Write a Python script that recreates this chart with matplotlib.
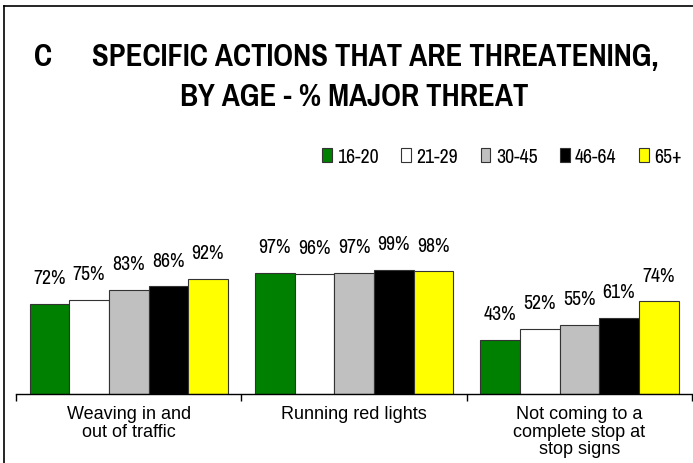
import matplotlib.pyplot as plt
from matplotlib import font_manager as fm
from matplotlib.lines import Line2D
from matplotlib.patches import Patch

# narrow Arial-like face if available, else plain sans at a smaller size
try:
    fm.findfont('Pragati Narrow', fallback_to_default=False)
    plt.rcParams['font.family'] = ['Pragati Narrow', 'DejaVu Sans']
    k = 1.0
except ValueError:
    plt.rcParams['font.family'] = ['Liberation Sans', 'DejaVu Sans']
    k = 0.8

categories = ['Weaving in and\nout of traffic', 'Running red lights',
              'Not coming to a\ncomplete stop at\nstop signs']
ages = ['16-20', '21-29', '30-45', '46-64', '65+']
v_16_20 = [72, 97, 43]
v_21_29 = [75, 96, 52]
v_30_45 = [83, 97, 55]
v_46_64 = [86, 99, 61]
v_65 = [92, 98, 74]
series = [v_16_20, v_21_29, v_30_45, v_46_64, v_65]
colors = ['#008000', '#ffffff', '#c0c0c0', '#000000', '#ffff00']

fig = plt.figure(figsize=(6.93, 4.64), dpi=100)
ax = fig.add_axes([0.0231, 0.1487, 0.9755, 0.4203])

w = 0.176
for i, vals in enumerate(series):
    xs = [g + (i - 2) * w for g in range(len(categories))]
    bars = ax.bar(xs, vals, width=w, color=colors[i], edgecolor='#333333', linewidth=0.8)
    for b, v in zip(bars, vals):
        ax.annotate(f'{v}%', (b.get_x() + b.get_width() / 2, v), xytext=(0, 19),
                    textcoords='offset points', ha='center', va='center', fontsize=15.5 * k)

ax.set_xlim(-0.5, 2.5)
ax.set_ylim(0, 156)
ax.set_yticks([])
for s in ['top', 'right', 'left']:
    ax.spines[s].set_visible(False)
ax.spines['bottom'].set_linewidth(1.0)
ax.set_xticks(range(len(categories)))
ax.set_xticklabels(categories, fontsize=13, linespacing=1.05,
                   family=['Liberation Sans', 'DejaVu Sans'])
ax.tick_params(axis='x', which='major', length=0, pad=8)
ax.set_xticks([-0.5, 0.5, 1.5, 2.5], minor=True)
ax.tick_params(axis='x', which='minor', length=5, width=1, direction='out')

fig.text(0.062, 0.878, 'C', fontsize=24 * k, fontweight='bold', ha='center', va='center')
fig.text(0.541, 0.878, 'SPECIFIC ACTIONS THAT ARE THREATENING,', fontsize=24 * k,
         fontweight='bold', ha='center', va='center')
fig.text(0.511, 0.79, 'BY AGE - % MAJOR THREAT', fontsize=24 * k,
         fontweight='bold', ha='center', va='center')

handles = [Patch(facecolor=c, edgecolor='#333333', linewidth=0.8) for c in colors]
fig.legend(handles, ages, loc='center right', bbox_to_anchor=(0.99, 0.66), ncol=5,
           frameon=False, fontsize=15.5 * k, handlelength=0.45, handleheight=0.6,
           handletextpad=0.25, columnspacing=1.05, borderpad=0.2, borderaxespad=0)

fig.add_artist(Line2D([4 / 693, 4 / 693], [0, 1 - 7 / 464], color='black', lw=1.2))
fig.add_artist(Line2D([4 / 693, 1], [1 - 7 / 464, 1 - 7 / 464], color='black', lw=1.2))

fig.savefig('out.png', dpi=100)
